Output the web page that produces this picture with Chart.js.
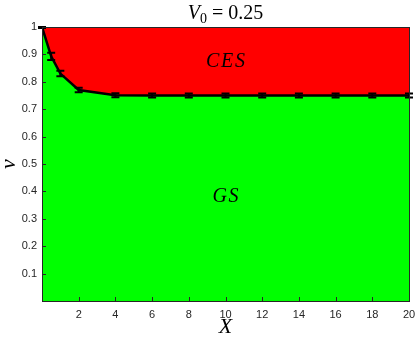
<!DOCTYPE html>
<html>
<head>
<meta charset="utf-8">
<script src="https://cdn.jsdelivr.net/npm/chart.js@4.4.0/dist/chart.umd.min.js"></script>
<style>
    html, body { margin: 0; padding: 0; background: #fff; }
    #wrap { width: 415px; height: 341px; }
</style>
</head>
<body>
<div id="wrap"><canvas id="v0-chart" width="415" height="341"></canvas></div>
<script>
// Dados
const xValues = [0, 0.5, 1, 2, 4, 6, 8, 10, 12, 14, 16, 18, 20];
const vValues = [1.0, 0.893, 0.83, 0.77, 0.751, 0.75, 0.75, 0.75, 0.75, 0.75, 0.75, 0.75, 0.75];
const vErrors = [0.004, 0.013, 0.01, 0.008, 0.007, 0.007, 0.007, 0.007, 0.007, 0.007, 0.007, 0.007, 0.007];
const topValues = [1, 1, 1, 1, 1, 1, 1, 1, 1, 1, 1, 1, 1];
const xTicks = [2, 4, 6, 8, 10, 12, 14, 16, 18, 20];
const yTicks = [0.1, 0.2, 0.3, 0.4, 0.5, 0.6, 0.7, 0.8, 0.9, 1];
const regionLabels = [
    { text: "CES", x: 10, y: 0.875 },
    { text: "GS", x: 10, y: 0.38 }
];

const AXIS_COLOR = "#262626";
const SERIF = "'Liberation Serif', 'DejaVu Serif', serif";

const curvePoints = xValues.map((x, i) => ({ x: x, y: vValues[i] }));
const topPoints = xValues.map((x, i) => ({ x: x, y: topValues[i] }));

// Barras de erro, eixos internos e textos
const decorPlugin = {
    id: "decor",
    afterDatasetsDraw(chart) {
        const { ctx, chartArea: a, scales } = chart;
        const sx = scales.x, sy = scales.y;
        ctx.save();

        // barras de erro
        ctx.strokeStyle = "#000";
        ctx.lineWidth = 2;
        xValues.forEach((x, i) => {
            const px = sx.getPixelForValue(x);
            const y1 = sy.getPixelForValue(Math.min(vValues[i] + vErrors[i], 1));
            const y2 = sy.getPixelForValue(vValues[i] - vErrors[i]);
            ctx.beginPath();
            ctx.moveTo(px, y1); ctx.lineTo(px, y2);
            ctx.moveTo(px - 4, y1); ctx.lineTo(px + 4, y1);
            ctx.moveTo(px - 4, y2); ctx.lineTo(px + 4, y2);
            ctx.stroke();
        });

        // textos das regiões
        ctx.fillStyle = "#000";
        ctx.font = "italic 20px " + SERIF;
        ctx.textAlign = "center";
        ctx.textBaseline = "middle";
        regionLabels.forEach(l => {
            const t = l.text.split("").join(String.fromCharCode(8202));
            ctx.fillText(t, sx.getPixelForValue(l.x), sy.getPixelForValue(l.y));
        });

        // caixa e ticks internos
        ctx.strokeStyle = AXIS_COLOR;
        ctx.lineWidth = 1;
        ctx.beginPath();
        xTicks.forEach(t => {
            const px = Math.round(sx.getPixelForValue(t)) + 0.5;
            ctx.moveTo(px, a.bottom); ctx.lineTo(px, a.bottom - 4);
        });
        yTicks.forEach(t => {
            const py = Math.round(sy.getPixelForValue(t)) + 0.5;
            ctx.moveTo(a.left, py); ctx.lineTo(a.left + 4, py);
        });
        ctx.stroke();
        ctx.strokeRect(a.left + 0.5, a.top + 0.5, a.right - a.left, a.bottom - a.top);

        // título
        const cx = (a.left + a.right) / 2;
        ctx.fillStyle = "#000";
        ctx.textBaseline = "alphabetic";
        ctx.textAlign = "left";
        ctx.font = "italic 20px " + SERIF;
        const wV = ctx.measureText("V").width;
        ctx.font = "14px " + SERIF;
        const w0 = ctx.measureText("0").width;
        ctx.font = "20px " + SERIF;
        const rest = " = 0.25";
        const wR = ctx.measureText(rest).width;
        let tx = cx - (wV + w0 + wR) / 2;
        const ty = 19;
        ctx.font = "italic 20px " + SERIF;
        ctx.fillText("V", tx, ty);
        tx += wV;
        ctx.font = "14px " + SERIF;
        ctx.fillText("0", tx, ty + 4);
        tx += w0;
        ctx.font = "20px " + SERIF;
        ctx.fillText(rest, tx, ty);

        // rótulos dos eixos
        ctx.font = "italic 22px " + SERIF;
        ctx.textAlign = "center";
        ctx.textBaseline = "middle";
        ctx.fillText("X", cx, 327);
        ctx.translate(9, (a.top + a.bottom) / 2);
        ctx.rotate(-Math.PI / 2);
        ctx.fillText("v", 0, 0);

        ctx.restore();
    }
};

const chart = new Chart(document.getElementById("v0-chart"), {
    type: "line",
    data: {
        datasets: [
            {
                label: "GS",
                data: curvePoints,
                borderColor: "#000000",
                borderWidth: 2.5,
                pointRadius: 0,
                tension: 0,
                fill: "origin",
                backgroundColor: "#00ff00"
            },
            {
                label: "CES",
                data: topPoints,
                borderWidth: 0,
                borderColor: "rgba(0,0,0,0)",
                pointRadius: 0,
                tension: 0,
                fill: 0,
                backgroundColor: "#ff0000"
            }
        ]
    },
    options: {
        responsive: false,
        animation: false,
        devicePixelRatio: 1,
        layout: { padding: { top: 27, right: 6, left: 0, bottom: 0 } },
        scales: {
            x: {
                type: "linear",
                min: 0,
                max: 20,
                afterFit: s => { s.height = 40; s.paddingRight = 0; s.paddingLeft = 0; },
                afterBuildTicks: s => { s.ticks = xTicks.map(v => ({ value: v })); },
                grid: { display: false, drawTicks: false },
                border: { display: false },
                ticks: {
                    color: AXIS_COLOR,
                    padding: 7,
                    font: { family: "'Liberation Sans', Arial, sans-serif", size: 11 },
                    maxRotation: 0
                }
            },
            y: {
                min: 0,
                max: 1,
                afterFit: s => { s.width = 42; s.paddingTop = 0; s.paddingBottom = 0; },
                afterBuildTicks: s => { s.ticks = yTicks.map(v => ({ value: v })); },
                grid: { display: false, drawTicks: false },
                border: { display: false },
                ticks: {
                    color: AXIS_COLOR,
                    padding: 5,
                    font: { family: "'Liberation Sans', Arial, sans-serif", size: 11 },
                    callback: v => String(Math.round(v * 10) / 10)
                }
            }
        },
        plugins: {
            legend: { display: false },
            tooltip: { enabled: false }
        }
    },
    plugins: [decorPlugin]
});
</script>
</body>
</html>
